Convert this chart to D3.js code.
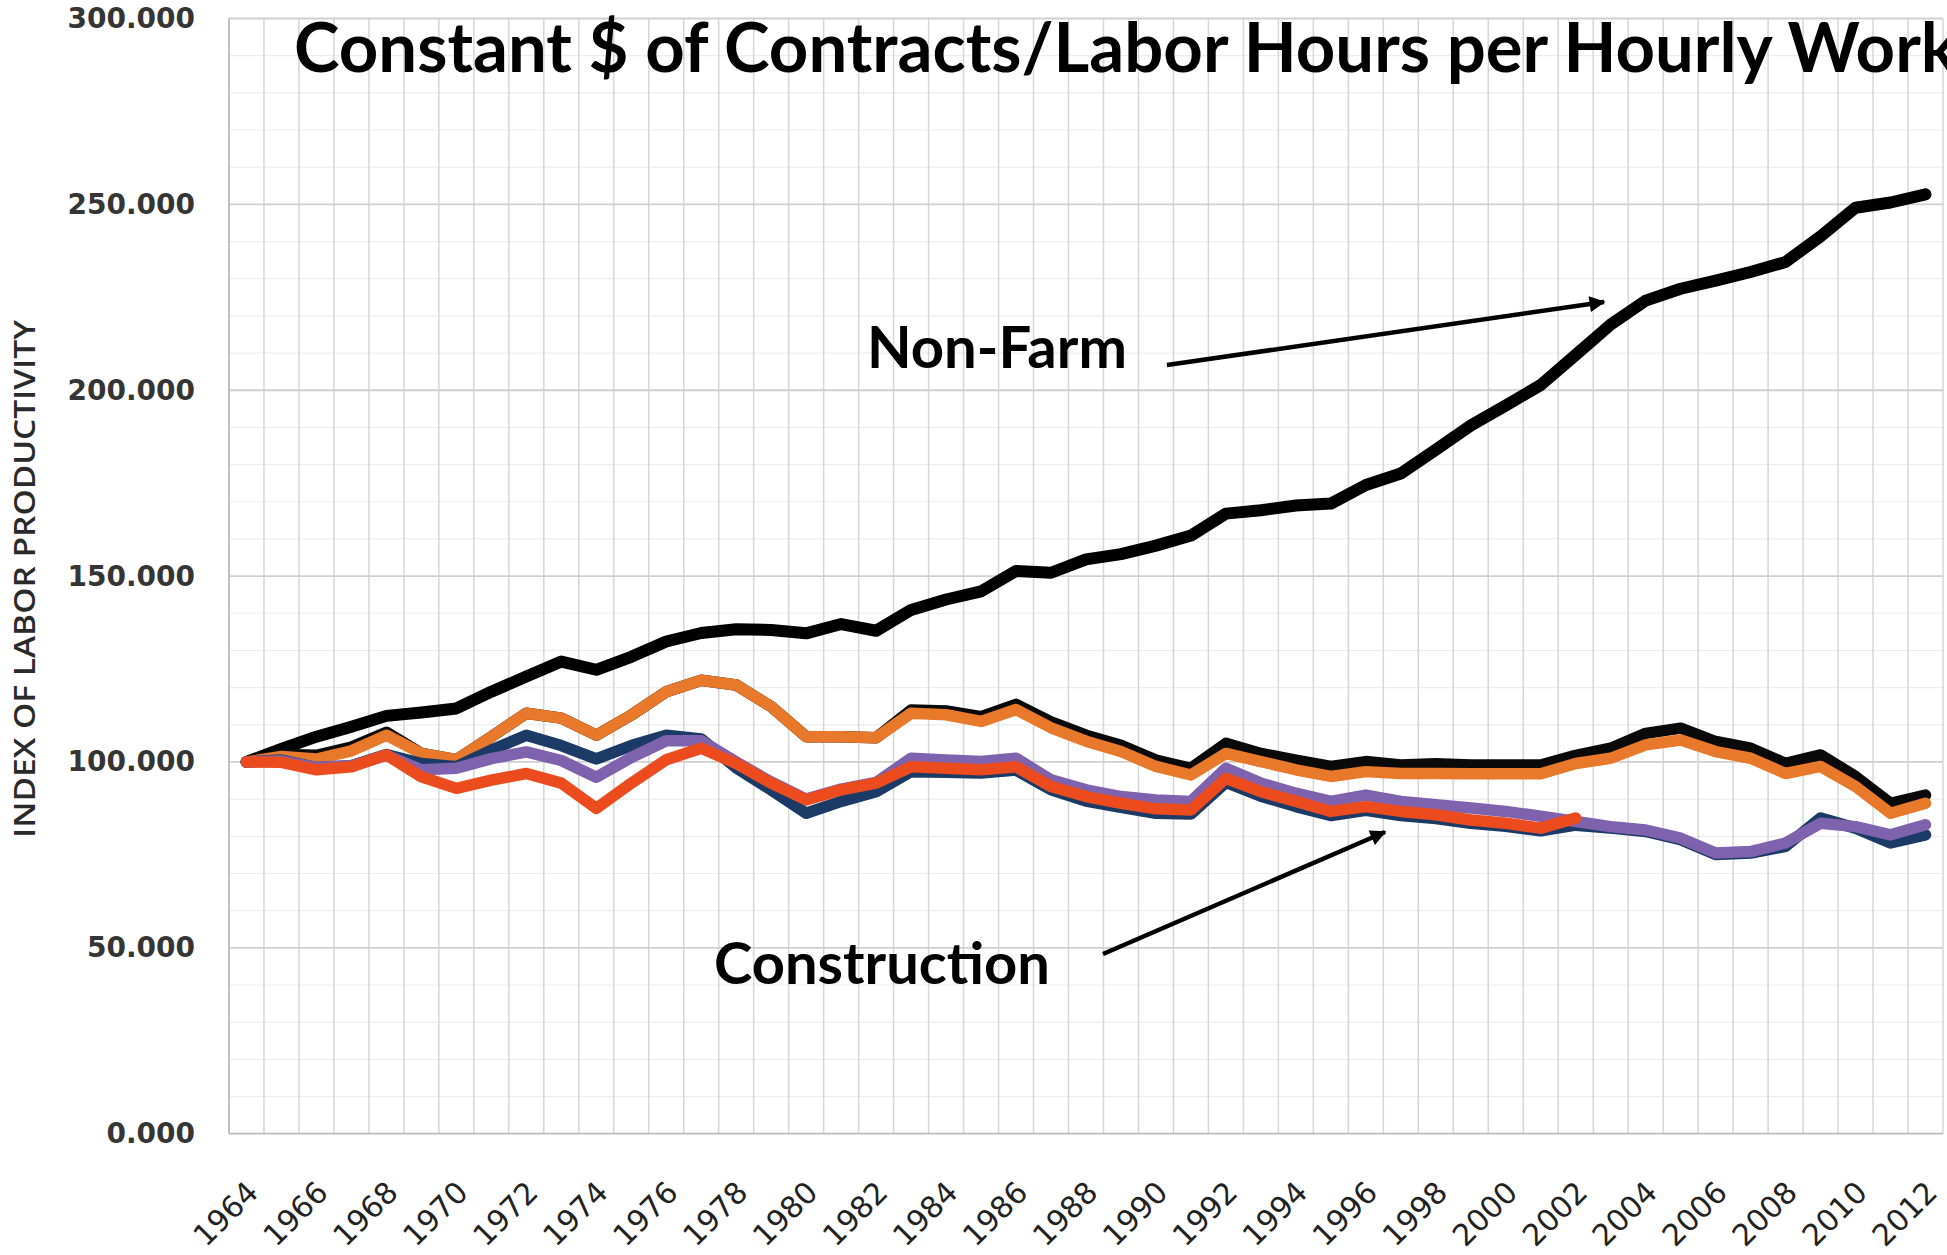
<!DOCTYPE html>
<html><head><meta charset="utf-8">
<script src="https://cdn.jsdelivr.net/npm/d3@7"></script>
<style>
html,body{margin:0;padding:0;background:#fff;overflow:hidden}
svg{display:block}
</style></head><body>
<svg id="chart" width="1947" height="1255"></svg>
<script>
// ---------------- DATA ----------------
const years = [1964,1965,1966,1967,1968,1969,1970,1971,1972,1973,1974,1975,1976,1977,1978,1979,1980,1981,1982,1983,1984,1985,1986,1987,1988,1989,1990,1991,1992,1993,1994,1995,1996,1997,1998,1999,2000,2001,2002,2003,2004,2005,2006,2007,2008,2009,2010,2011,2012];
const xTickYears = [1964,1966,1968,1970,1972,1974,1976,1978,1980,1982,1984,1986,1988,1990,1992,1994,1996,1998,2000,2002,2004,2006,2008,2010,2012];
const yTicks = [0,50,100,150,200,250,300];
const yMinorTicks = [10,20,30,40,60,70,80,90,110,120,130,140,160,170,180,190,210,220,230,240,260,270,280,290];

const nonFarm = [100,103.5,106.8,109.5,112.4,113.3,114.4,118.9,123,127,124.8,128.3,132.4,134.7,135.7,135.5,134.6,137.1,135.3,140.9,143.7,145.9,151.4,150.9,154.5,155.9,158.2,160.9,166.8,167.7,169.0,169.5,174.5,177.6,184,190.5,195.9,201.4,209.5,217.7,224.1,227.3,229.5,231.8,234.5,241.4,249.1,250.5,252.7];
const constBlack = [100,102,101.8,104,108,102.3,100.6,106.8,113.1,111.8,107.2,112.6,118.9,122,120.7,114.9,106.8,106.8,106.5,114,113.7,112.2,115.5,110.8,107.2,104.5,100.5,98.3,105,102.3,100.5,98.8,100.1,99.2,99.5,99.2,99.2,99.2,101.8,103.7,107.7,109.1,105.5,103.7,99.6,101.9,96.1,88.9,91.1];
const constOrange = [100,101.5,100.8,103,107.2,102.3,100.6,106.8,113.1,111.8,107.2,112.6,118.9,122,120.7,114.9,106.8,106.8,106.5,113.1,112.7,110.9,114.1,109.2,105.6,102.8,98.8,96.5,102.3,100.1,97.9,96.1,97.4,96.9,96.9,96.8,96.8,96.8,99.6,101,104.6,105.9,102.8,101,96.9,98.8,93.4,86.2,88.9];
const constNavy = [100,100.5,98.5,99,102,99.6,98.7,103.2,107.2,104.4,100.8,104.4,107.2,106.2,98.4,92.5,86.2,89.4,92,97.4,97.2,97,97.8,92.5,89.5,87.8,86.2,86,94.5,90.8,88,85.6,87,85.6,84.8,83.5,82.7,81.5,83,82.2,81.3,79.1,75.1,75.5,77.3,84.9,82.2,78.2,80.4];
const constPurple = [100,100.3,98.5,99,101.8,97.9,98.3,100.9,102.7,100.4,95.9,101.2,105.7,105.7,100,94.6,90,92.7,94.5,101,100.5,100.1,101,95.2,92.5,90.7,89.8,89.4,98.3,94.3,91.6,89.4,91.1,89.4,88.5,87.6,86.7,85.4,84,82.6,81.7,79.5,75.5,75.9,78.2,83.5,82.6,80.4,83.1];
const constRed = [100,99.9,97.9,98.7,101.9,96,92.9,95.1,96.9,94.3,87.5,94.3,100.6,103.7,99.6,94.3,89.8,92.5,94.3,98.7,98.3,97.9,98.7,93.4,90.7,88.9,87.4,87.1,95.6,92,89.4,86.7,88,86.7,85.8,84.4,83.5,82.2,84.9];

const titleText = "Constant $ of Contracts/Labor Hours per Hourly Worker";
const yAxisTitle = "INDEX OF LABOR PRODUCTIVITY";
const labelNonFarm = "Non-Farm";
const labelConstruction = "Construction";

// ---------------- LAYOUT ----------------
const svg = d3.select("#chart");
const plot = {left: 229, right: 1943, top: 18.5, bottom: 1133.7};

const x = d3.scaleBand().domain(years).range([plot.left, plot.right]).padding(0);
const bw = x.bandwidth();
const y = d3.scaleLinear().domain([0, 300]).range([plot.bottom, plot.top]);

// grid: minor horizontal
svg.append("g").selectAll("line").data(yMinorTicks).join("line")
  .attr("x1", plot.left).attr("x2", plot.right)
  .attr("y1", d => y(d)).attr("y2", d => y(d))
  .attr("stroke", "#ededed").attr("stroke-width", 1.2);

// grid: vertical at band edges
const edges = years.map(d => x(d)).concat([plot.right]);
svg.append("g").selectAll("line").data(edges).join("line")
  .attr("x1", d => d).attr("x2", d => d)
  .attr("y1", plot.top).attr("y2", plot.bottom)
  .attr("stroke", "#d6d6d6").attr("stroke-width", 1.5);

// grid: major horizontal
svg.append("g").selectAll("line").data(yTicks).join("line")
  .attr("x1", plot.left).attr("x2", plot.right)
  .attr("y1", d => y(d)).attr("y2", d => y(d))
  .attr("stroke", d => d === 0 ? "#bdbdbd" : "#cfcfcf").attr("stroke-width", 1.8);

// left axis line
svg.append("line").attr("x1", plot.left).attr("x2", plot.left)
  .attr("y1", plot.top).attr("y2", plot.bottom)
  .attr("stroke", "#bdbdbd").attr("stroke-width", 1.8);

// Y axis labels
const yAxis = svg.append("g").attr("transform", `translate(${plot.left},0)`)
  .call(d3.axisLeft(y).tickValues(yTicks).tickFormat(d3.format(".3f")).tickSize(0).tickPadding(34));
yAxis.select(".domain").remove();
yAxis.selectAll("text")
  .attr("font-family", "DejaVu Sans").attr("font-weight", "bold")
  .attr("font-size", 28).attr("fill", "#353535");

// X axis labels
const xAxis = svg.append("g").attr("transform", `translate(0,${plot.bottom})`)
  .call(d3.axisBottom(x).tickValues(xTickYears).tickSize(0));
xAxis.select(".domain").remove();
xAxis.selectAll("text")
  .attr("x", 0).attr("y", 0).attr("dy", "0.35em")
  .attr("text-anchor", "end")
  .attr("transform", "translate(6,53) rotate(-45)")
  .attr("font-family", "DejaVu Sans")
  .attr("font-size", 30).attr("fill", "#222222");

// Y axis title
svg.append("text")
  .attr("transform", "translate(35,579) rotate(-90)")
  .attr("text-anchor", "middle")
  .attr("font-family", "Open Sans").attr("font-weight", 600)
  .attr("font-size", 28).attr("fill", "#2a2a2a")
  .attr("textLength", 518).attr("lengthAdjust", "spacingAndGlyphs")
  .text(yAxisTitle);

// ---------------- LINES ----------------
function series(vals) { return vals.map((v, i) => ({year: years[i], v})); }
const line = d3.line().x(d => x(d.year) + bw / 2).y(d => y(d.v));

const seriesList = [
  {vals: nonFarm, color: "#000000", w: 12},
  {vals: constBlack, color: "#0a0a0a", w: 11.5},
  {vals: constOrange, color: "#E8782A", w: 11.5},
  {vals: constNavy, color: "#1C3A66", w: 11.5},
  {vals: constPurple, color: "#7E62AE", w: 11.5},
  {vals: constRed, color: "#EC4B1E", w: 11.5}
];
svg.append("g").selectAll("path").data(seriesList).join("path")
  .attr("d", s => line(series(s.vals)))
  .attr("fill", "none")
  .attr("stroke", s => s.color)
  .attr("stroke-width", s => s.w)
  .attr("stroke-linejoin", "round")
  .attr("stroke-linecap", "round");

// ---------------- TITLE ----------------
const title = svg.append("text")
  .attr("x", 294).attr("y", 72)
  .attr("font-family", "Lato").attr("font-weight", "bold")
  .attr("font-size", 62).attr("fill", "#000")
  .text(titleText);
{
  const n = titleText.indexOf("Work") + 4;
  const sub = title.node().getSubStringLength(0, n);
  title.attr("font-size", 62 * 1662 / sub);
}

// ---------------- ANNOTATIONS ----------------
function fitText(sel, width) {
  const w = sel.node().getComputedTextLength();
  const fs = +sel.attr("font-size");
  sel.attr("font-size", fs * width / w);
}
const nf = svg.append("text").attr("x", 867).attr("y", 368)
  .attr("font-family", "Lato").attr("font-weight", "bold")
  .attr("font-size", 58).attr("fill", "#000").text(labelNonFarm);
fitText(nf, 260);
const cs = svg.append("text").attr("x", 714).attr("y", 984)
  .attr("font-family", "Lato").attr("font-weight", "bold")
  .attr("font-size", 58).attr("fill", "#000").text(labelConstruction);
fitText(cs, 336);

const defs = svg.append("defs");
defs.append("marker").attr("id", "arrow")
  .attr("viewBox", "0 0 10 10").attr("refX", 9).attr("refY", 5)
  .attr("markerUnits", "userSpaceOnUse")
  .attr("markerWidth", 20).attr("markerHeight", 16)
  .attr("orient", "auto")
  .append("path").attr("d", "M0,0 L10,5 L0,10 Z").attr("fill", "#000");

const arrows = [
  {x1: 1167, y1: 365, x2: 1604, y2: 302},
  {x1: 1103, y1: 954, x2: 1385, y2: 832}
];
svg.append("g").selectAll("line").data(arrows).join("line")
  .attr("x1", d => d.x1).attr("y1", d => d.y1)
  .attr("x2", d => d.x2).attr("y2", d => d.y2)
  .attr("stroke", "#000").attr("stroke-width", 4.5)
  .attr("marker-end", "url(#arrow)");
</script>
</body></html>
